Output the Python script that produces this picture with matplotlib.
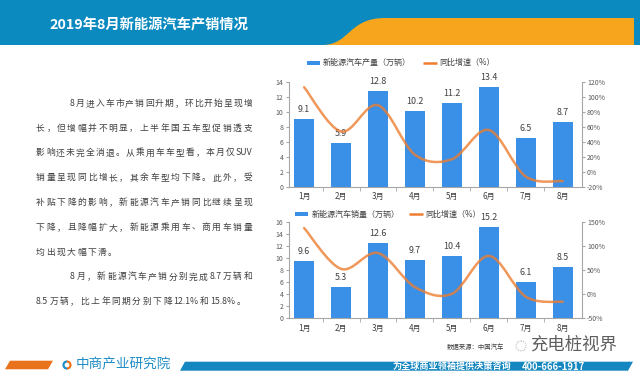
import re
import numpy as np
import matplotlib
matplotlib.use("Agg")
import matplotlib.pyplot as plt
from matplotlib.patches import Polygon, PathPatch, Rectangle, Circle, Wedge
from matplotlib.path import Path

plt.rcParams['font.family'] = ['Noto Sans CJK SC', 'DejaVu Sans']

# ---- data ----
months = ['1月', '2月', '3月', '4月', '5月', '6月', '7月', '8月']
output = [9.1, 5.9, 12.8, 10.2, 11.2, 13.4, 6.5, 8.7]
output_yoy = [113, 54, 89, 23, 17, 56, -6, -12.1]
sales = [9.6, 5.3, 12.6, 9.7, 10.4, 15.2, 6.1, 8.5]
sales_yoy = [138, 53, 86, 15, 1, 80, -5, -15.8]

title = '2019年8月新能源汽车产销情况'
para_lines = [
    '8月进入车市产销回升期，环比开始呈现增',
    '长，但增幅并不明显，上半年国五车型促销透支',
    '影响还未完全消退。从乘用车车型看，本月仅SUV',
    '销量呈现同比增长，其余车型均下降。此外，受',
    '补贴下降的影响，新能源汽车产销同比继续呈现',
    '下降，且降幅扩大，新能源乘用车、商用车销量',
    '均出现大幅下滑。',
    '8月，新能源汽车产销分别完成8.7万辆和',
    '8.5万辆，比上年同期分别下降12.1%和15.8%。',
]
indented = [True, False, False, False, False, False, False, True, False]
justified = [True, True, True, True, True, True, False, True, False]

BLUE = '#3a8fe6'
ORANGE = '#ed7d31'
HEAD_BLUE = '#0b8ac0'
HEAD_ORANGE = '#f7a51c'
GREY = '#a6a6a6'
TXT = '#595959'

W, H = 640, 376
fig = plt.figure(figsize=(6.4, 3.76), dpi=100)
fig.patch.set_facecolor('white')

bg = fig.add_axes([0, 0, 1, 1], zorder=0)
bg.set_xlim(0, W)
bg.set_ylim(H, 0)
bg.axis('off')
renderer = fig.canvas.get_renderer()

# header band
bg.add_patch(Rectangle((0, 0), W, 45, color=HEAD_BLUE, lw=0))
verts = [(322, 45), (350, 45), (348, 18), (385, 18), (634, 18), (634, 45), (322, 45)]
codes = [Path.MOVETO, Path.CURVE4, Path.CURVE4, Path.CURVE4, Path.LINETO, Path.LINETO, Path.CLOSEPOLY]
bg.add_patch(PathPatch(Path(verts, codes), color=HEAD_ORANGE, lw=0))
bg.text(49, 25, title, color='white', fontsize=10.3, fontweight='bold', va='center', ha='left')


# left paragraph text, laid out token by token so lines are justified
def text_width(s, fs):
    t = bg.text(0, 0, s, fontsize=fs)
    w = t.get_window_extent(renderer).width
    t.remove()
    return w


def put_line(s, x0, y, x1=None, fs=6.3):
    tokens = re.findall(r'[\x00-\x7f]+|.', s)
    widths = [text_width(t, fs) for t in tokens]
    if x1 is None:
        gap = 10.3 - fs * 100 / 72
    else:
        gap = (x1 - x0 - sum(widths)) / (len(tokens) - 1)
    pos = x0
    for t, w in zip(tokens, widths):
        bg.text(pos, y, t, fontsize=fs, color='#3f3f3f', ha='left', va='center')
        pos += w + gap


for i, line in enumerate(para_lines):
    x0 = 70 if indented[i] else 36
    put_line(line, x0, 103.3 + 24.8 * i, 252 if justified[i] else None)


def smooth_path(xs, ys):
    # Excel-like smoothed line: cubic bezier through every point
    pts = np.column_stack([xs, ys]).astype(float)
    n = len(pts)
    verts = [tuple(pts[0])]
    codes = [Path.MOVETO]
    for i in range(n - 1):
        p0 = pts[max(i - 1, 0)]
        p1 = pts[i]
        p2 = pts[i + 1]
        p3 = pts[min(i + 2, n - 1)]
        c1 = p1 + (p2 - p0) / 6
        c2 = p2 - (p3 - p1) / 6
        verts += [tuple(c1), tuple(c2), tuple(p2)]
        codes += [Path.CURVE4] * 3
    return Path(verts, codes)


def draw_chart(top, bottom, vals, yoy, ymax, pmin, pmax, pstep, xlabel_pad):
    ax = fig.add_axes([289 / W, 1 - bottom / H, 292.5 / W, (bottom - top) / H], zorder=2)
    ax.patch.set_alpha(0)
    x = np.arange(len(months))
    ax.bar(x, vals, width=0.54, color=BLUE, zorder=2)
    for xi, v in zip(x, vals):
        ax.annotate(f'{v}', (xi, v), xytext=(0, 6.8), textcoords='offset points',
                    ha='center', va='center', fontsize=6.4, color='#404040')
    ax.set_xlim(-0.41, 7.51)
    ax.set_ylim(0, ymax)
    ax.set_yticks(np.arange(0, ymax + 1, 2))
    ax.set_xticks(x)
    ax.set_xticklabels(months)
    ax.set_xticks(np.arange(0.5, 7.0, 1), minor=True)
    ax.tick_params(axis='x', which='major', length=0, pad=xlabel_pad, labelsize=5.8, labelcolor='#404040')
    ax.tick_params(axis='x', which='minor', length=3, color=GREY, direction='out')
    ax.tick_params(axis='y', length=2.5, color=GREY, labelsize=5, labelcolor=TXT, pad=1.5)
    for s in ['top', 'right']:
        ax.spines[s].set_visible(False)
    for s in ['left', 'bottom']:
        ax.spines[s].set_color(GREY)
        ax.spines[s].set_linewidth(0.8)

    ax2 = ax.twinx()
    ax2.set_ylim(pmin, pmax)
    ticks = np.arange(pmin, pmax + 1, pstep)
    ax2.set_yticks(ticks)
    ax2.set_yticklabels([f'{t}%' for t in ticks])
    ax2.tick_params(axis='y', length=2.5, color=GREY, labelsize=5, labelcolor=TXT, pad=1.5)
    for s in ['top', 'left', 'bottom']:
        ax2.spines[s].set_visible(False)
    ax2.spines['right'].set_color(GREY)
    ax2.spines['right'].set_linewidth(0.8)
    ax2.add_patch(PathPatch(smooth_path(x, yoy), fill=False, edgecolor=ORANGE,
                            lw=1.8, alpha=0.8, capstyle='round', zorder=3))
    return ax, ax2


draw_chart(82, 187, output, output_yoy, 14, -20, 120, 20, 3.5)
draw_chart(222.3, 318.3, sales, sales_yoy, 16, -50, 150, 50, 4.0)


# legends (drawn in pixel space)
def legend(y, px, tx, bar_name, lx, ltx, line_name):
    bg.add_patch(Rectangle((px, y - 2.2), 13, 4.4, color=BLUE, lw=0))
    bg.text(tx, y, bar_name, fontsize=5.8, color='#404040', va='center', ha='left')
    bg.plot([lx, lx + 14], [y, y], color=ORANGE, lw=1.8, solid_capstyle='butt')
    bg.text(ltx, y, line_name, fontsize=5.8, color='#404040', va='center', ha='left')


legend(62.7, 307, 323, '新能源汽车产量（万辆）', 423, 439, '同比增速（%）')
legend(214, 295, 311.5, '新能源汽车销量（万辆）', 409, 425, '同比增速（%）')

# footer
bg.text(447, 347, '数据来源：中国汽车', fontsize=4.6, color='#404040', va='center', ha='left')
bg.add_patch(Circle((521, 346), 5, fill=False, ls=':', lw=0.6, color='#888888'))
bg.text(530, 345, '充电桩视界', fontsize=12.5, color='#5e5e5e', va='center', ha='left')

bg.add_patch(Polygon([(5, 369.3), (10, 360.7), (53, 360.7), (48, 369.3)], color='#e8731c', lw=0))
bg.add_patch(Wedge((67, 365), 4.6, 90, 270, width=2.2, color='#1f8dc6', lw=0))
bg.add_patch(Wedge((67, 365), 4.6, -90, 90, width=2.2, color='#e8731c', lw=0))
bg.text(76, 365, '中商产业研究院', fontsize=9.8, color='#1f8dc6', va='center', ha='left')
bg.add_patch(Polygon([(180, 370.7), (185, 361.7), (633, 361.7), (628, 370.7)], color='#1487c0', lw=0))
bg.text(393, 366.5, '为全球商业领袖提供决策咨询', fontsize=6.6, color='white', fontweight='bold',
        va='center', ha='left')
bg.text(522, 366.5, '400-666-1917', fontsize=6.8, color='white', fontweight='bold',
        va='center', ha='left')

fig.savefig('out.png', dpi=100, facecolor='white')
